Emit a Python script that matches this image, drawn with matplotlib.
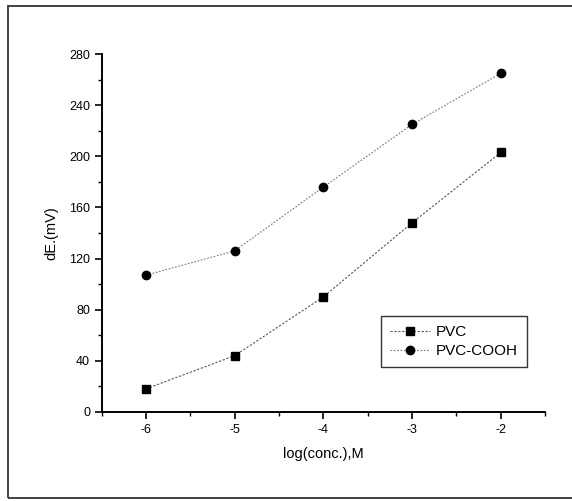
import numpy as np
import matplotlib
matplotlib.use("Agg")
from matplotlib import pyplot as plt
from matplotlib.patches import Rectangle

plt.rcParams['font.family'] = ['Liberation Sans', 'DejaVu Sans']
plt.rcParams['axes.unicode_minus'] = False

log_conc = [-6, -5, -4, -3, -2]
pvc = [18, 44, 90, 148, 203]
pvc_cooh = [107, 126, 176, 225, 265]

fig = plt.figure(figsize=(5.72, 5.01), dpi=100)
ax = fig.add_axes([0.178, 0.178, 0.775, 0.714])

ax.plot(log_conc, pvc, color='#555555', lw=0.8, ls=(0, (2, 1.5)),
        marker='s', ms=5.5, mfc='black', mec='black', label='PVC')
ax.plot(log_conc, pvc_cooh, color='#777777', lw=0.8, ls=(0, (1.5, 1.5)),
        marker='o', ms=6, mfc='black', mec='black', label='PVC-COOH')

ax.set_xlim(-6.5, -1.5)
ax.set_ylim(0, 280)
ax.set_xticks([-6, -5, -4, -3, -2])
ax.set_xticks(np.arange(-6.5, -1.4, 0.5), minor=True)
ax.set_yticks(np.arange(0, 281, 40))
ax.set_yticks(np.arange(0, 281, 20), minor=True)

for s in ['top', 'right']:
    ax.spines[s].set_visible(False)
for s in ['left', 'bottom']:
    ax.spines[s].set_linewidth(1.4)

ax.tick_params(which='major', direction='out', length=5, width=1.2, labelsize=9)
ax.tick_params(which='minor', direction='out', length=3, width=1.0)

ax.set_xlabel('log(conc.),M', fontsize=10.5, labelpad=8)
ax.set_ylabel('dE.(mV)', fontsize=10.5, labelpad=8)

leg = ax.legend(loc='lower right', bbox_to_anchor=(0.96, 0.125), fontsize=11,
                frameon=True, fancybox=False, edgecolor='black',
                handlelength=2.6, handletextpad=0.4, borderpad=0.6,
                labelspacing=0.3, borderaxespad=0)
leg.get_frame().set_linewidth(1.0)

# scanned page border
fig.patches.append(Rectangle((8 / 572, 3 / 501), 620 / 572, 492 / 501,
                             transform=fig.transFigure, fill=False,
                             edgecolor='#333333', lw=1.3))

fig.savefig('out.png', dpi=100)
